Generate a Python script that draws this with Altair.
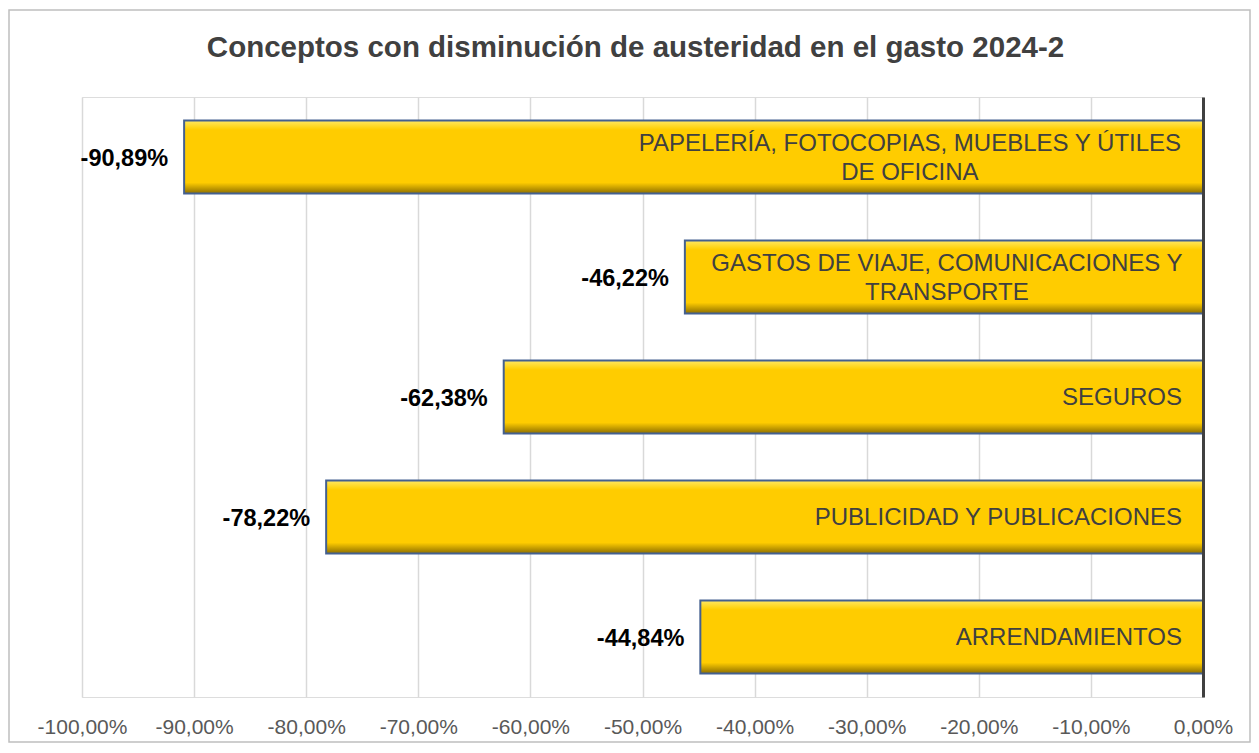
import altair as alt
import pandas as pd

categories = [
    "PAPELERÍA, FOTOCOPIAS, MUEBLES Y ÚTILES|DE OFICINA",
    "GASTOS DE VIAJE, COMUNICACIONES Y|TRANSPORTE",
    "SEGUROS",
    "PUBLICIDAD Y PUBLICACIONES",
    "ARRENDAMIENTOS",
]
values = [-0.9089, -0.4622, -0.6238, -0.7822, -0.4484]
tick_values = [-1.0, -0.9, -0.8, -0.7, -0.6, -0.5, -0.4, -0.3, -0.2, -0.1, 0.0]
title_text = "Conceptos con disminución de austeridad en el gasto 2024-2"

df = pd.DataFrame({"label": categories, "value": values})

W, H = 1121, 600
FONT = "Liberation Sans"

xscale = alt.Scale(domain=[-1.0, 0.0], nice=False, zero=False)
yenc = alt.Y(
    "label:N",
    sort=categories,
    scale=alt.Scale(paddingInner=0.39, paddingOuter=0.195),
    axis=alt.Axis(
        orient="right", labels=False, ticks=False, title=None, grid=False,
        domain=True, domainColor="#404040", domainWidth=3, zindex=1,
    ),
)

base = alt.Chart(df)

border = alt.Chart(pd.DataFrame({"a": [0]})).mark_rect(
    fill=None, stroke="#BFBFBF", strokeWidth=1.5
).encode(
    x=alt.value(-73), x2=alt.value(W + 47),
    y=alt.value(-87), y2=alt.value(H + 45),
)

bars = base.mark_bar(
    color={
        "gradient": "linear", "x1": 0, "y1": 0, "x2": 0, "y2": 1,
        "stops": [
            {"offset": 0.0, "color": "#FFE866"},
            {"offset": 0.1, "color": "#FFD414"},
            {"offset": 0.13, "color": "#FFCC00"},
            {"offset": 0.85, "color": "#FFCC00"},
            {"offset": 0.9, "color": "#D9AD00"},
            {"offset": 1.0, "color": "#8C6E00"},
        ],
    },
    stroke="#44608F", strokeWidth=2,
).encode(
    x=alt.X(
        "value:Q", scale=xscale,
        axis=alt.Axis(
            values=tick_values, format=".2%", title=None, orient="bottom",
            labelFontSize=21, labelColor="#595959", labelFont=FONT,
            labelPadding=19, ticks=False, domain=False, labelOverlap=False,
            labelBound=False, labelFlush=False,
            grid=True, gridColor="#D9D9D9", gridWidth=1.5,
        ),
    ),
    x2=alt.datum(0),
    y=yenc,
)

value_labels = base.mark_text(
    align="right", baseline="middle", dx=-16, dy=2, fontSize=23.5,
    fontWeight="bold", font=FONT, color="#000000",
).encode(
    x=alt.X("value:Q", scale=xscale),
    y=yenc,
    text=alt.Text("value:Q", format=".2%"),
)

single_labels = base.transform_filter(
    "indexof(datum.label, '|') < 0"
).mark_text(
    align="right", baseline="middle", dx=-21, dy=1, fontSize=24, font=FONT,
    color="#404040",
).encode(
    x=alt.datum(0, scale=xscale),
    y=yenc,
    text="label:N",
)

multi_labels = base.transform_filter(
    "indexof(datum.label, '|') >= 0"
).transform_calculate(
    L="max(length(split(datum.label, '|')[0]), length(split(datum.label, '|')[1]))"
).transform_calculate(
    xc="-(52.5 + 6.17 * datum.L) / 1121"
).mark_text(
    align="center", baseline="middle", fontSize=24, font=FONT,
    color="#404040", lineBreak="|", lineHeight=29, dy=-13,
).encode(
    x=alt.X("xc:Q", scale=xscale),
    y=yenc,
    text="label:N",
)

chart = alt.layer(
    border, bars, value_labels, single_labels, multi_labels
).properties(
    width=W, height=H,
    padding={"left": 74, "top": 89, "right": 48, "bottom": 46},
    autosize=alt.AutoSizeParams(type="none"),
    title=alt.TitleParams(
        title_text, anchor="middle", fontSize=29.5, font=FONT, fontWeight="bold",
        color="#404040", offset=-54, dx=-7,
    ),
    background="white",
).configure_view(
    stroke=None
).configure(
    locale={
        "number": {
            "decimal": ",", "thousands": ".", "grouping": [3],
            "currency": ["", "€"], "minus": "-",
        }
    }
)

chart.save("out.html", embed_options={"renderer": "svg", "actions": False})
